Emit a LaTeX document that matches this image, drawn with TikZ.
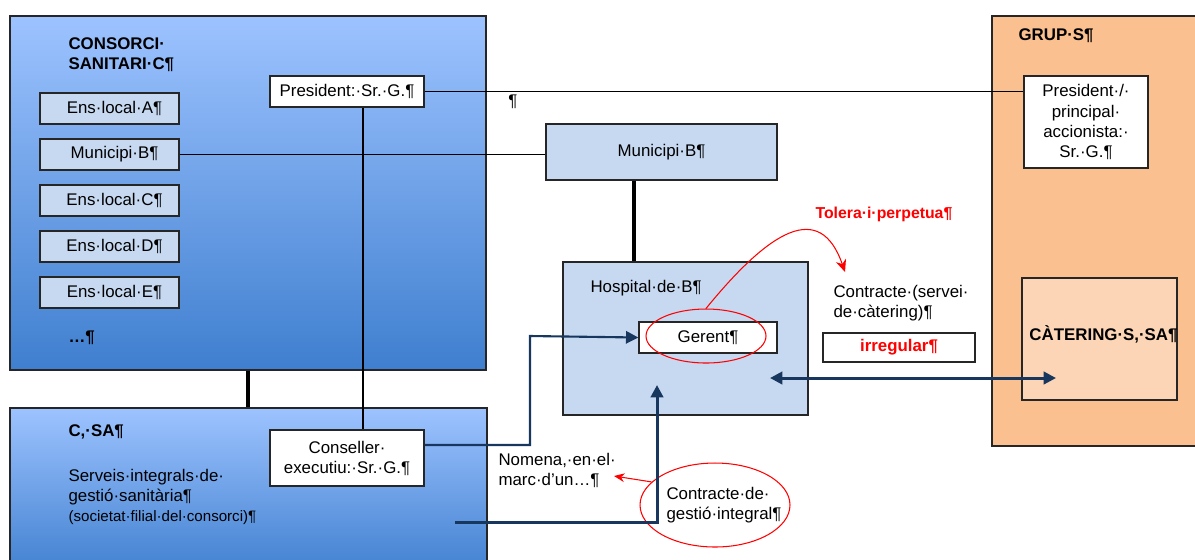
\documentclass[tikz,border=0pt]{standalone}
\usepackage{fontspec}
\setmainfont{Liberation Sans}
\usetikzlibrary{shapes.geometric,arrows.meta,shadows}

\definecolor{lblue}{HTML}{C6D9F1}
\definecolor{topblue}{HTML}{9DC3FF}
\definecolor{botblue}{HTML}{3F7FCF}
\definecolor{peach}{HTML}{FAC08F}
\definecolor{lpeach}{HTML}{FBD5B5}
\definecolor{navy}{HTML}{17375E}
\definecolor{boxline}{HTML}{262626}

\newcommand\txt{\fontsize{9.6}{11.4}\selectfont}
\newcommand\smalltxt{\fontsize{8.6}{10.4}\selectfont}

\tikzset{
  orgbox/.style={rectangle, draw=boxline, line width=0.8pt,
    drop shadow={opacity=0.25, shadow xshift=0.8pt, shadow yshift=-0.8pt}},
  ensbox/.style={orgbox, fill=lblue, minimum width=2.78cm, minimum height=0.62cm,
    execute at begin node={\hspace*{0.2cm}}},
  whitebox/.style={orgbox, fill=white},
  bluebg/.style={orgbox, top color=topblue, bottom color=botblue},
  navyarrow/.style={draw=navy, line width=1.7pt, -{Triangle[length=7pt,width=7pt]}},
  redring/.style={ellipse, draw=red, line width=0.6pt},
}

\begin{document}
\begin{tikzpicture}[x=0.02cm, y=-0.02cm, line width=0.6pt, inner sep=0pt, font=\txt]
\useasboundingbox (0,0) rectangle (1195,559);

\draw (248,193) node[bluebg, minimum width=9.52cm, minimum height=7.08cm](cons){}
    (248.5,492) node[bluebg, minimum width=9.54cm, minimum height=3.36cm](csa){}
    (1096,231) node[orgbox, fill=peach, minimum width=4.16cm, minimum height=8.6cm](grup){}
    (661.5,152) node[orgbox, fill=lblue, minimum width=4.62cm, minimum height=1.12cm](muni){Municipi·B¶}
    (685.5,338.5) node[orgbox, fill=lblue, minimum width=4.9cm, minimum height=3.06cm](hosp){};

\draw (109.5,108.5) node[ensbox](ens1){Ens·local·A¶}
    (109.5,154.5) node[ensbox](ens2){Municipi·B¶}
    (109.5,200.5) node[ensbox](ens3){Ens·local·C¶}
    (109.5,246.5) node[ensbox](ens4){Ens·local·D¶}
    (109.5,292.5) node[ensbox](ens5){Ens·local·E¶}
    (347,91.5) node[whitebox, minimum width=3.08cm, minimum height=0.62cm](pres){President:·Sr.·G.¶}
    (347,458) node[whitebox, minimum width=3.08cm, minimum height=1.12cm, align=center](consell){Conseller·\\executiu:·Sr.·G.¶}
    (708,337.5) node[whitebox, minimum width=2.76cm, minimum height=0.62cm](ger){Gerent¶}
    (1086,122) node[whitebox, minimum width=2.48cm, minimum height=1.84cm, align=center](presg){President·/·\\principal·\\accionista:·\\Sr.·G.¶}
    (1099.5,339) node[orgbox, fill=lpeach, minimum width=3.1cm, minimum height=2.44cm,
      label={[font=\txt\bfseries, xshift=0.08cm, yshift=0.1cm]center:CÀTERING·S,·SA¶}](cat){}
    (899,347.5) node[whitebox, minimum width=3.04cm, minimum height=0.58cm, text=red, font=\txt\bfseries](irr){irregular¶};

\node[anchor=north west, align=left, font=\txt\bfseries] (constit) at (68,37) {CONSORCI·\\SANITARI·C¶};
\node[anchor=west, font=\txt\bfseries] (more) at (68,338) {…¶};
\node (pil) at (513,102) {¶};
\node[anchor=west] (hosptit) at (590,288) {Hospital·de·B¶};
\node[anchor=west, text=red, font=\fontsize{9}{11}\selectfont\bfseries] (tolera) at (815,214) {Tolera·i·perpetua¶};
\node[anchor=north west, align=left] (contcat) at (833,285) {Contracte·(servei·\\de·càtering)¶};
\node[anchor=west, font=\txt\bfseries] (gruptit) at (1018,36) {GRUP·S¶};
\node[anchor=west, font=\txt\bfseries] (csatit) at (68,432) {C,·SA¶};
\node[anchor=north west, align=left] (serv) at (68,469) {Serveis·integrals·de·\\gestió·sanitària¶\\\smalltxt (societat·filial·del·consorci)¶};
\node[anchor=north west, align=left] (nomena) at (498,453) {Nomena,·en·el·\\marc·d’un…¶};
\node[redring, minimum width=2.4cm, minimum height=1.08cm] (gring) at (706,336) {};
\node[redring, minimum width=3cm, minimum height=1.68cm,
  label={[align=left, xshift=0.18cm]center:Contracte·de·\\gestió·integral¶}] (gestio) at (715,505) {};

\coordinate (mh) at (634,180);
\coordinate (pv) at (363,0);
\coordinate (knee) at (530,336);
\coordinate (csaout) at (455,522);
\coordinate (hospin) at (657,385);
\coordinate (hospr) at (770,378);
\coordinate (catin) at (1056,378);
\coordinate (tolend) at (845,272);
\coordinate (nomtip) at (614,476);

\draw (pres.east) -- (pres.east -| presg.west);
\draw (ens2.east) -- (ens2.east -| muni.west);
\draw (pv |- pres.south) -- (pv |- consell.north);
\draw [line width=1.8pt] (cons.south) -- (cons.south |- csa.north);
\draw [line width=1.8pt] (mh |- muni.south) -- (mh |- hosp.north);
\draw [navyarrow, line width=1.2pt] ([yshift=0.26cm]consell.east) -| (knee) -- (ger.west);
\draw [navyarrow] (csaout) -| (hospin);
\draw [navyarrow, {Triangle[length=7pt,width=7pt]}-{Triangle[length=7pt,width=7pt]}] (hospr) -- (catin);
\draw [red, -{Stealth[length=7pt,width=6pt]}] (gring.north) .. controls (770,230) and (820,200) .. (tolend);
\draw [red, -{Stealth[length=6pt,width=5pt]}] (gestio.160) -- (nomtip);
\end{tikzpicture}
\end{document}
